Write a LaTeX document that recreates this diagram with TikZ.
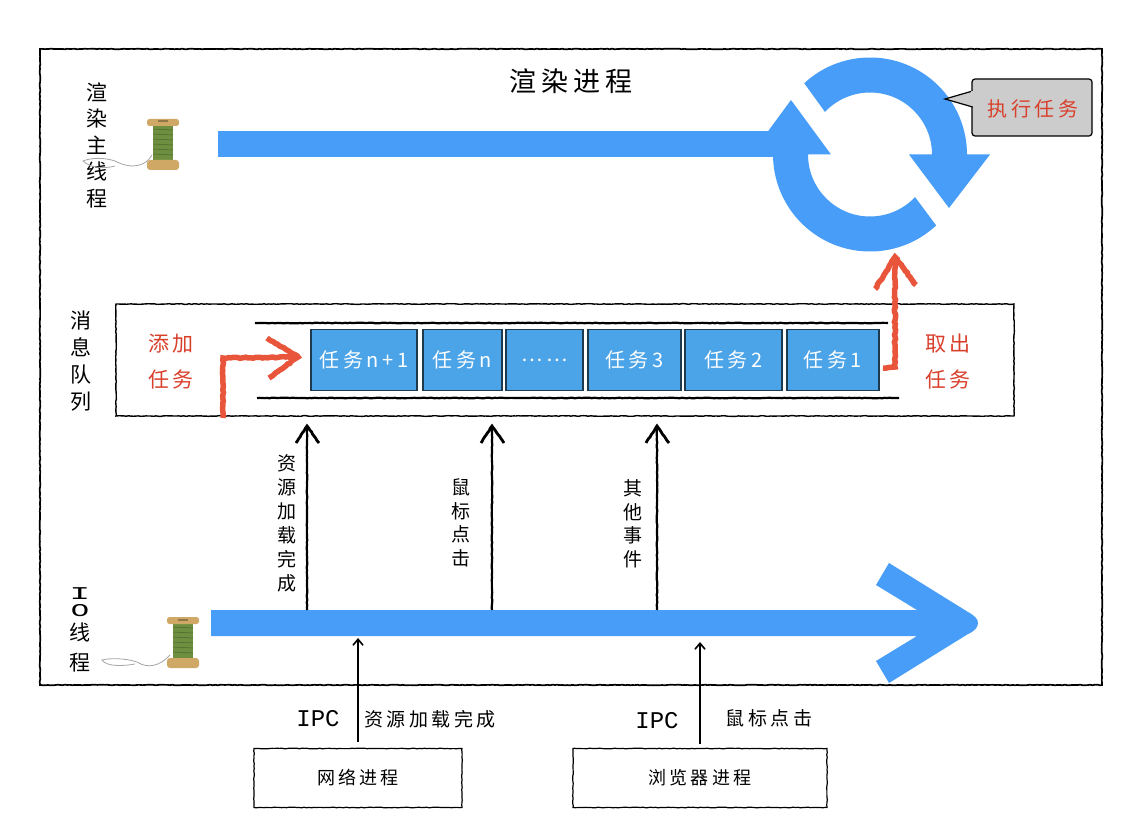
\documentclass[tikz,border=0pt]{standalone}
\usepackage{fontspec}
\usepackage{graphicx}
\usetikzlibrary{arrows.meta, decorations.pathmorphing}
\newfontfamily\hand[LetterSpace=18]{Noto Sans CJK SC}
\newfontfamily\handplain{Noto Sans CJK SC}
\newfontfamily\ipcface{Liberation Mono}
\newcommand{\handsize}[2]{\fontsize{#1}{#2}\selectfont\hand}
\definecolor{threadblue}{HTML}{479DF7}
\definecolor{taskblue}{HTML}{4BA3E8}
\definecolor{taskedge}{HTML}{1E3A4C}
\definecolor{crayon}{HTML}{E8553A}
\definecolor{redtext}{HTML}{D9402C}
\definecolor{spoolwood}{HTML}{CFA866}
\definecolor{spoolgreen}{HTML}{6E8F3F}
\tikzset{
    sketch/.style={decorate, decoration={random steps, segment length=2.5pt, amplitude=0.35pt}},
    framebox/.style={sketch, black, line width=1.7pt},
    queuerail/.style={sketch, black, line width=2.2pt},
    sketcharrow/.style={sketch, black, line width=2.2pt},
    crayonarrow/.style={decorate, decoration={random steps, segment length=2.5pt, amplitude=0.6pt},
        crayon, line width=5.5pt},
    taskbox/.style={draw=taskedge, line width=1.8pt, fill=taskblue, text=white, anchor=west,
        minimum height=61pt, inner sep=0pt, font=\handsize{20}{24}},
    procbox/.style={sketch, draw=black, line width=1.2pt, minimum height=59pt, inner sep=0pt, font=\handsize{18}{22}},
    stack/.style={align=center, inner sep=0pt},
    redlabel/.style={stack, text=redtext, font=\handsize{21}{36}},
    spool/.pic={
        \fill [spoolgreen] (-10,-20) rectangle ++(20,36) ;
        \foreach \y in {-16,-11,-6,-1,4,9}
            \draw [spoolgreen!70!black, line width=0.5pt] (-10,\y) -- ++(20,1) ;
        \fill [spoolwood, rounded corners=2.5pt] (-16,-26) rectangle ++(32,7) ;
        \fill [spoolwood!70!black] (-5,-24.5) rectangle ++(10,2) ;
        \fill [spoolwood, rounded corners=3pt] (-16,15) rectangle ++(32,10) ;
    },
}
\begin{document}
\begin{tikzpicture}[x=1pt, y=-1pt]
    \useasboundingbox (0,0) rectangle (1142,834) ;
    \fill [white] (0,0) rectangle (1142,834) ;

    % frames
    \draw [framebox] (40,49) rectangle ++(1062,636) ;
    \draw [framebox, line width=1.4pt] (116,304) rectangle ++(898,112) ;
    \node (title) at (571,81) {\fontsize{27}{32}\selectfont\addfontfeature{LetterSpace=10}\hand 渲染进程} ;

    % main thread
    \fill [threadblue] (218,131) rectangle ++(560,26) ;
    \begin{scope}[shift={(870,154.5)}]
        \fill [threadblue] (227.3:97) arc [start angle=227.3, end angle=360, radius=97]
            -- (120,0) -- (79,53.5) -- (39,0) -- (62,0)
            arc [start angle=360, end angle=223.4, radius=62] -- cycle ;
        \fill [threadblue] (47:97) arc [start angle=47, end angle=180, radius=97]
            -- (-119,0) -- (-79,-54.5) -- (-39,0) -- (-62,0)
            arc [start angle=180, end angle=43.4, radius=62] -- cycle ;
    \end{scope}
    \node [fill=black!20, draw=black, line width=1.2pt, rounded corners=3pt, minimum width=120pt,
        minimum height=57pt, inner sep=0pt] (exec) at (1032,107.5) {} ;
    \node [text=redtext, font=\handsize{20}{24}] (execlabel) at (1033,109) {执行任务} ;
    \coordinate (execpoint) at (945,99) ;
    \filldraw [fill=black!20, draw=black, line width=1.2pt] (972.6,91) -- (execpoint) -- (972.6,107) ;
    \fill [black!20] (971.4,91.5) rectangle ++(3,15) ;

    % left labels and spools
    \node [stack, font=\fontsize{21}{26.5}\selectfont\handplain] (mainlabel) at (97,145) {渲\\染\\主\\线\\程} ;
    \node [stack, font=\fontsize{21}{27}\selectfont\handplain] (queuelabel) at (81,361) {消\\息\\队\\列} ;
    \node [stack, font=\fontsize{21}{14}\selectfont\handplain] (iolabel) at (80,630) {\scalebox{1.9}[1]{\fontsize{18}{14}\selectfont\ipcface I}\\[3pt]\scalebox{1.7}[1]{\fontsize{18}{14}\selectfont\ipcface O}\\[5pt]线\\[10pt]程} ;
    \pic at (163,145) {spool} ;
    \pic at (183,643) {spool} ;
    \draw [black!35, line width=0.8pt] (152,155) .. controls (146,166) and (132,170) .. (115,161)
        .. controls (103,157) and (90,158) .. (83,161) .. controls (90,168) and (105,169) .. (115,166) ;
    \draw [black!35, line width=0.8pt] (170,655) .. controls (160,666) and (148,669) .. (137,662)
        .. controls (125,658) and (110,658) .. (102,660) .. controls (106,667) and (125,666) .. (135,664) ;

    % queue
    \draw [queuerail] (255,323) -- ++(633,0) ;
    \draw [queuerail] (257,398) -- ++(642,0) ;
    \foreach \left/\wid/\name/\txt in {310/106/a/任务n+1, 422/79/b/任务n, 505/77/c/……,
            587/93/d/任务3, 684/97/e/任务2, 786/92/f/任务1}
        \node [taskbox, minimum width=\wid pt] (task\name) at (\left,360) {\txt} ;
    \node [redlabel] (addlabel) at (171,362) {添加\\任务} ;
    \node [redlabel] (takelabel) at (948,362) {取出\\任务} ;

    % add and take
    \coordinate (addfrom) at (223,418) ;
    \coordinate (addcorner) at (223,358) ;
    \coordinate (addto) at (298,357) ;
    \draw [crayonarrow] (addfrom) -- (addcorner) -- (addto) ;
    \draw [crayonarrow] (267,338) -- (addto) -- (269,378) ;
    \coordinate (takefrom) at (883,368) ;
    \coordinate (takecorner) at (895,367) ;
    \coordinate (taketo) at (895,257) ;
    \draw [crayonarrow] (takefrom) -- (takecorner) -- (taketo) ;
    \draw [crayonarrow] (875,289) -- (taketo) -- (916,285) ;

    % IO thread
    \fill [threadblue] (211,610) -- (917,610) -- (876,585) -- (889,563) -- (968,612)
        .. controls (975,616) and (978,619) .. (978,623) .. controls (978,627) and (975,631) .. (968,634)
        -- (889,683) -- (876,661) -- (917,636) -- (211,636) -- cycle ;

    % events up to the queue
    \foreach \x/\name in {307/res, 492/mouse, 657/other} {
        \coordinate (\name from) at (\x,610) ;
        \coordinate (\name to) at (\x,426) ;
        \draw [sketcharrow] (\name from) -- (\name to) ;
        \draw [sketcharrow, line width=2.8pt] (\x-11,443) -- (\name to) -- (\x+12,443) ;
    }
    \node [stack, font=\fontsize{19}{24}\selectfont\handplain] (reslabel) at (287,523) {资\\源\\加\\载\\完\\成} ;
    \node [stack, font=\fontsize{19}{23.5}\selectfont\handplain] (mouselabel) at (461,523) {鼠\\标\\点\\击} ;
    \node [stack, font=\fontsize{19}{23.5}\selectfont\handplain] (otherlabel) at (633,524) {其\\他\\事\\件} ;

    % other processes
    \node [procbox, minimum width=208pt] (net) at (358,778) {网络进程} ;
    \node [procbox, minimum width=254pt] (browser) at (700,778) {浏览器进程} ;
    \coordinate (netto) at (358,638) ;
    \coordinate (browserto) at (700,642) ;
    \draw [-{Straight Barb[length=6pt, width=10pt]}, line width=1.6pt, shorten <=6pt] (net.north) -- (netto) ;
    \draw [-{Straight Barb[length=6pt, width=10pt]}, line width=1.6pt, shorten <=4pt] (browser.north) -- (browserto) ;
    \node [font=\fontsize{24}{28}\selectfont\ipcface] (ipcnet) at (318,719) {IPC} ;
    \node [font=\fontsize{24}{28}\selectfont\ipcface] (ipcbrowser) at (657,721) {IPC} ;
    \node [font=\handsize{19}{24}] (netmsg) at (430,719) {资源加载完成} ;
    \node [font=\handsize{19}{24}] (browsermsg) at (769,718) {鼠标点击} ;
\end{tikzpicture}
\end{document}
